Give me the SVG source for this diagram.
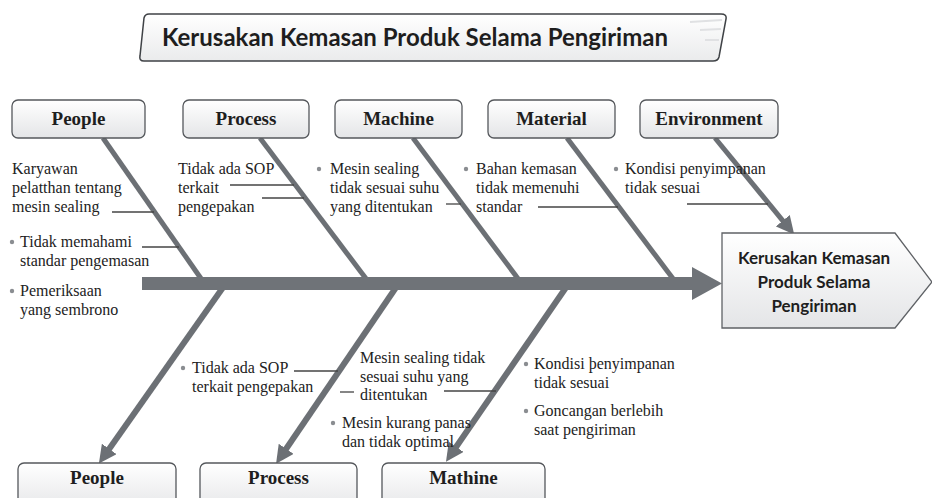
<svg xmlns="http://www.w3.org/2000/svg" width="932" height="498" viewBox="0 0 932 498">
<defs>
<linearGradient id="boxg" x1="0" y1="0" x2="0" y2="1"><stop offset="0" stop-color="#ffffff"/><stop offset="1" stop-color="#e4e5e7"/></linearGradient>
<linearGradient id="titleg" x1="0" y1="0" x2="0" y2="1"><stop offset="0" stop-color="#ffffff"/><stop offset="1" stop-color="#eaebec"/></linearGradient>
<marker id="ah" markerUnits="userSpaceOnUse" markerWidth="20" markerHeight="18" refX="6" refY="9" orient="auto"><path d="M0,0 L18,9 L0,18 z" fill="#6c7075"/></marker>
<style>
.box{fill:url(#boxg);stroke:#55585c;stroke-width:1.3}
.lbl{font-family:"Liberation Serif","DejaVu Serif",serif;font-weight:bold;font-size:19px;fill:#1e1e1e;text-anchor:middle}
.t{font-family:"Liberation Serif","DejaVu Serif",serif;font-size:16px;fill:#222}
.bone{stroke:#6c7075;stroke-width:5;fill:none;stroke-linecap:butt}
.bbone{stroke:#6c7075;stroke-width:6;fill:none}
.lead{stroke:#444;stroke-width:1.3;fill:none}
.dot{fill:#8a8d91}
.eff{font-family:Lato,"Liberation Sans",sans-serif;font-weight:bold;font-size:17px;fill:#1e1e1e;text-anchor:middle}
</style>
</defs>
<rect width="932" height="498" fill="#ffffff"/>

<g id="title">
<path d="M149,14 L721,14 Q727,14 726,19 L719,57 Q718,61 713,61 L144,61 Q139,61 140,56 L144,18 Q145,14 149,14 z" fill="url(#titleg)" stroke="#3f4246" stroke-width="1.5"/>
<path d="M690,22 L722,20 M700,30 L721,29 M705,40 L719,40" stroke="#e0e1e3" stroke-width="2"/>
<text x="162" y="46" font-family="Lato,'Liberation Sans',sans-serif" font-weight="bold" font-size="24" fill="#1e1e1e" textLength="506" lengthAdjust="spacingAndGlyphs">Kerusakan Kemasan Produk Selama Pengiriman</text>
</g>

<g id="connectors">
<line class="bone" x1="103" y1="138" x2="202" y2="280"/>
<line class="bone" x1="260" y1="138" x2="367" y2="280"/>
<line class="bone" x1="413" y1="138" x2="519" y2="280"/>
<line class="bone" x1="567" y1="138" x2="674" y2="280"/>
<line class="bone" x1="715" y1="138" x2="786.6" y2="225.3" marker-end="url(#ah)"/>
<line class="bbone" x1="224" y1="286" x2="105.8" y2="453.8" marker-end="url(#ah)"/>
<line class="bbone" x1="397" y1="286" x2="282.8" y2="453.8" marker-end="url(#ah)"/>
<line class="bbone" x1="567" y1="286" x2="452.8" y2="451.8" marker-end="url(#ah)"/>
<polygon points="142,277 692,277 692,267 722,283.5 692,300 692,290 142,290" fill="#6f7378"/>
<line class="lead" x1="112" y1="212" x2="154" y2="212"/>
<line class="lead" x1="142" y1="247" x2="179" y2="247"/>
<line class="lead" x1="230" y1="185" x2="294" y2="185"/>
<line class="lead" x1="262" y1="198" x2="304" y2="198"/>
<line class="lead" x1="446" y1="204" x2="461" y2="204"/>
<line class="lead" x1="538" y1="207" x2="618" y2="207"/>
<line class="lead" x1="687" y1="204" x2="768" y2="204"/>
<line class="lead" x1="294" y1="371" x2="338" y2="371"/>
<line class="lead" x1="340" y1="392" x2="354" y2="392"/>
<line class="lead" x1="444" y1="391" x2="496" y2="391"/>
</g>

<g id="people-top">
<rect class="box" x="12" y="100" width="133" height="38" rx="6"/>
<text class="lbl" x="78.5" y="125">People</text>
<text class="t" x="12" y="174">Karyawan</text>
<text class="t" x="12" y="193">pelatthan tentang</text>
<text class="t" x="12" y="212">mesin sealing</text>
<circle class="dot" cx="12" cy="242" r="2.2"/>
<text class="t" x="20" y="247">Tidak memahami</text>
<text class="t" x="20" y="266">standar pengemasan</text>
<circle class="dot" cx="12" cy="291" r="2.2"/>
<text class="t" x="20" y="296">Pemeriksaan</text>
<text class="t" x="20" y="315">yang sembrono</text>
</g>

<g id="process-top">
<rect class="box" x="183" y="100" width="126" height="38" rx="6"/>
<text class="lbl" x="246" y="125">Process</text>
<text class="t" x="178" y="174">Tidak ada SOP</text>
<text class="t" x="178" y="193">terkait</text>
<text class="t" x="178" y="212">pengepakan</text>
</g>

<g id="machine-top">
<rect class="box" x="335" y="100" width="127" height="38" rx="6"/>
<text class="lbl" x="398.5" y="125">Machine</text>
<circle class="dot" cx="319" cy="169" r="2.2"/>
<text class="t" x="330" y="174">Mesin sealing</text>
<text class="t" x="330" y="193">tidak sesuai suhu</text>
<text class="t" x="330" y="212">yang ditentukan</text>
</g>

<g id="material-top">
<rect class="box" x="488" y="100" width="127" height="38" rx="6"/>
<text class="lbl" x="551.5" y="125">Material</text>
<circle class="dot" cx="466" cy="169" r="2.2"/>
<text class="t" x="476" y="174">Bahan kemasan</text>
<text class="t" x="476" y="193">tidak memenuhi</text>
<text class="t" x="476" y="212">standar</text>
</g>

<g id="environment-top">
<rect class="box" x="640" y="100" width="138" height="38" rx="6"/>
<text class="lbl" x="709" y="125">Environment</text>
<circle class="dot" cx="616" cy="169" r="2.2"/>
<text class="t" x="625" y="174">Kondisi penyimpanan</text>
<text class="t" x="625" y="193">tidak sesuai</text>
</g>

<g id="effect">
<path d="M722,233 L895,233 L932,282 L895,328 L722,328 z" fill="url(#boxg)" stroke="#5f6266" stroke-width="1.3"/>
<text class="eff" x="814" y="264">Kerusakan Kemasan</text>
<text class="eff" x="814" y="288">Produk Selama</text>
<text class="eff" x="814" y="312">Pengiriman</text>
</g>

<g id="people-bottom">
<rect class="box" x="18" y="463" width="158" height="50" rx="6"/>
<text class="lbl" x="97" y="484">People</text>
</g>

<g id="process-bottom">
<rect class="box" x="200" y="463" width="157" height="50" rx="6"/>
<text class="lbl" x="278.5" y="484">Process</text>
<circle class="dot" cx="183" cy="368" r="2.2"/>
<text class="t" x="192" y="373">Tidak ada SOP</text>
<text class="t" x="192" y="392">terkait pengepakan</text>
</g>

<g id="machine-bottom">
<rect class="box" x="382" y="463" width="163" height="50" rx="6"/>
<text class="lbl" x="463.5" y="484">Mathine</text>
<text class="t" x="360" y="363">Mesin sealing tidak</text>
<text class="t" x="360" y="382">sesuai suhu yang</text>
<text class="t" x="360" y="400">ditentukan</text>
<circle class="dot" cx="333" cy="423" r="2.2"/>
<text class="t" x="342" y="428">Mesin kurang panas</text>
<text class="t" x="342" y="447">dan tidak optimal</text>
</g>

<g id="environment-bottom">
<circle class="dot" cx="526" cy="364" r="2.2"/>
<text class="t" x="534" y="369">Kondisi þenyimpanan</text>
<text class="t" x="534" y="388">tidak sesuai</text>
<circle class="dot" cx="526" cy="411" r="2.2"/>
<text class="t" x="534" y="416">Goncangan berlebih</text>
<text class="t" x="534" y="435">saat pengiriman</text>
</g>
</svg>
